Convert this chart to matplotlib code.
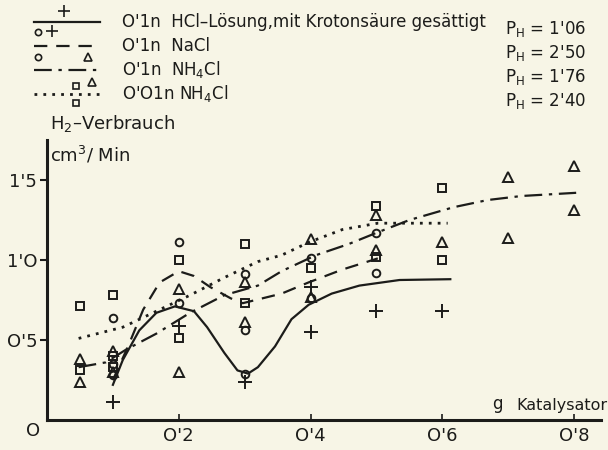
import matplotlib
matplotlib.use("Agg")
import matplotlib.pyplot as plt

plt.rcParams['font.family'] = ['DejaVu Sans']

INK = '#1c1c1a'
PAPER = '#f7f5e6'

# measured points, grouped by the symbol used in the plot
plus_x = [0.1, 0.2, 0.3, 0.4, 0.4, 0.5, 0.6]
plus_y = [0.11, 0.59, 0.24, 0.83, 0.55, 0.68, 0.68]

circ_x = [0.1, 0.1, 0.1, 0.2, 0.2, 0.3, 0.3, 0.3, 0.4, 0.4, 0.5, 0.5]
circ_y = [0.64, 0.35, 0.28, 1.11, 0.73, 0.91, 0.56, 0.29, 1.01, 0.76, 1.17, 0.92]

tri_x = [0.05, 0.05, 0.1, 0.1, 0.2, 0.2, 0.3, 0.3, 0.4, 0.4, 0.5, 0.5, 0.6,
         0.7, 0.7, 0.8, 0.8]
tri_y = [0.38, 0.24, 0.43, 0.30, 0.82, 0.30, 0.86, 0.61, 1.13, 0.77, 1.28,
         1.06, 1.11, 1.52, 1.14, 1.59, 1.31]

sq_x = [0.05, 0.05, 0.1, 0.1, 0.1, 0.2, 0.2, 0.3, 0.3, 0.4, 0.5, 0.5, 0.6, 0.6]
sq_y = [0.71, 0.31, 0.78, 0.40, 0.33, 1.00, 0.51, 1.10, 0.73, 0.95, 1.34,
        1.02, 1.45, 1.00]

# hand-drawn mean curves
hcl_x = [0.10, 0.115, 0.14, 0.166, 0.194, 0.223, 0.243, 0.269, 0.289, 0.305,
         0.32, 0.346, 0.371, 0.397, 0.432, 0.474, 0.535, 0.612]
hcl_y = [0.22, 0.375, 0.56, 0.67, 0.71, 0.68, 0.58, 0.42, 0.31, 0.29,
         0.33, 0.46, 0.63, 0.72, 0.79, 0.84, 0.875, 0.88]

nacl_x = [0.10, 0.123, 0.146, 0.171, 0.20, 0.223, 0.248, 0.279, 0.297, 0.356,
          0.397, 0.448, 0.502]
nacl_y = [0.25, 0.46, 0.69, 0.86, 0.93, 0.90, 0.83, 0.76, 0.73, 0.79,
          0.86, 0.94, 1.01]

nh4_x = [0.048, 0.089, 0.12, 0.166, 0.217, 0.269, 0.32, 0.356, 0.408, 0.458,
         0.50, 0.55, 0.617, 0.669, 0.72, 0.803]
nh4_y = [0.33, 0.36, 0.44, 0.54, 0.67, 0.78, 0.84, 0.93, 1.03, 1.10,
         1.17, 1.25, 1.33, 1.375, 1.40, 1.42]

nh4_dil_x = [0.048, 0.115, 0.166, 0.217, 0.269, 0.32, 0.356, 0.397, 0.448,
             0.502, 0.562, 0.608]
nh4_dil_y = [0.51, 0.58, 0.68, 0.78, 0.89, 0.99, 1.03, 1.11, 1.19,
             1.23, 1.23, 1.23]

legend_labels = ["O'1n  HCl\u2013Lösung,mit Krotonsäure gesättigt",
                 "O'1n  NaCl",
                 "O'1n  NH$_4$Cl",
                 "O'O1n NH$_4$Cl"]
ph_labels = ["1'06", "2'50", "1'76", "2'40"]

xticks = [0.2, 0.4, 0.6, 0.8]
xtick_labels = ["O'2", "O'4", "O'6", "O'8"]
yticks = [0.5, 1.0, 1.5]
ytick_labels = ["O'5", "1'O", "1'5"]

fig = plt.figure(figsize=(6.08, 4.5), dpi=100, facecolor=PAPER)
# origin at (47, 420) px, 659 px per g, 160 px per cm3/min
ax = fig.add_axes([47 / 608, 30 / 450, 0.84 * 659 / 608, 1.75 * 160 / 450])
ax.set_facecolor('none')

line_kw = dict(color=INK, lw=1.6)
ax.plot(hcl_x, hcl_y, ls='-', **line_kw)
ax.plot(nacl_x, nacl_y, ls=(0, (6, 4)), **line_kw)
ax.plot(nh4_x, nh4_y, ls=(0, (8, 3, 1.5, 3)), **line_kw)
ax.plot(nh4_dil_x, nh4_dil_y, ls=(0, (1, 2.2)), color=INK, lw=2.0)

mk = dict(ls='none', mfc='none', mec=INK, color=INK, mew=1.4)
ax.plot(plus_x, plus_y, marker='+', ms=10, **mk)
ax.plot(circ_x, circ_y, marker='o', ms=5.5, **mk)
ax.plot(tri_x, tri_y, marker='^', ms=7, **mk)
ax.plot(sq_x, sq_y, marker='s', ms=5.5, **mk)

ax.set_xlim(0, 0.84)
ax.set_ylim(0, 1.75)
for side in ['top', 'right']:
    ax.spines[side].set_visible(False)
for side in ['left', 'bottom']:
    ax.spines[side].set_linewidth(2.2)
    ax.spines[side].set_color(INK)

ax.set_xticks(xticks)
ax.set_xticklabels(xtick_labels)
ax.set_yticks(yticks)
ax.set_yticklabels(ytick_labels)
ax.tick_params(axis='x', direction='in', length=4, width=1.2, colors=INK,
               labelsize=13, pad=5)
ax.tick_params(axis='y', direction='out', length=5, width=1.5, colors=INK,
               labelsize=13, pad=2)

# overlay in pixel coordinates for the legend and axis captions
ov = fig.add_axes([0, 0, 1, 1])
ov.set_xlim(0, 608)
ov.set_ylim(450, 0)
ov.axis('off')
ov.patch.set_alpha(0)

ov.text(33, 431, "O", fontsize=13, color=INK, ha='center', va='center')
ov.text(50, 123, "H$_2$\u2013Verbrauch", fontsize=13, color=INK,
        ha='left', va='center')
ov.text(50, 155, "cm$^3$/ Min", fontsize=13, color=INK, ha='left', va='center')
ov.text(492, 413, "g", fontsize=12, color=INK, ha='left', va='bottom')
ov.text(607, 413, "Katalysator", fontsize=11.5, color=INK, ha='right',
        va='bottom')

row_y = [22, 46, 70, 94]
x0, x1 = 34, 100
ov.plot([x0, x1], [row_y[0], row_y[0]], ls='-', **line_kw)
ov.plot([x0, x1], [row_y[1], row_y[1]], ls=(0, (6, 4)), **line_kw)
ov.plot([x0, x1], [row_y[2], row_y[2]], ls=(0, (8, 3, 1.5, 3)), **line_kw)
ov.plot([x0, x1], [row_y[3], row_y[3]], ls=(0, (1, 2.2)), color=INK, lw=2.0)

mk_small = dict(mk, mew=1.2)
ov.plot([64], [row_y[0] - 11], marker='+', ms=8, **mk_small)
ov.plot([38], [row_y[0] + 10], marker='o', ms=4.5, **mk_small)
ov.plot([52], [row_y[0] + 9], marker='+', ms=8, **mk_small)
ov.plot([38], [row_y[1] + 11], marker='o', ms=4.5, **mk_small)
ov.plot([88], [row_y[1] + 11], marker='^', ms=5.5, **mk_small)
ov.plot([92], [row_y[2] + 12], marker='^', ms=5.5, **mk_small)
ov.plot([76], [row_y[3] - 8], marker='s', ms=4.5, **mk_small)
ov.plot([76], [row_y[3] + 9], marker='s', ms=4.5, **mk_small)

for y, lab in zip(row_y, legend_labels):
    ov.text(122, y, lab, fontsize=12, color=INK, ha='left', va='center')

for y, val in zip(row_y, ph_labels):
    ov.text(505, y + 7, "P$_\\mathregular{H}$ = " + val, fontsize=12,
            color=INK, ha='left', va='center')

fig.savefig("out.png", dpi=100, facecolor=PAPER)
